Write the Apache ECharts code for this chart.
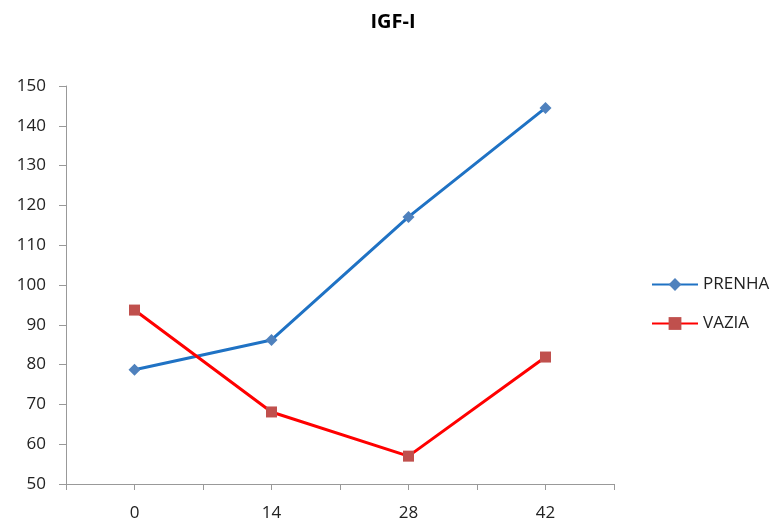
<!DOCTYPE html>
<html>
<head>
<meta charset="utf-8">
<script src="https://cdn.jsdelivr.net/npm/echarts@6/dist/echarts.min.js"></script>
<style>html,body{margin:0;padding:0;background:#fff}#c{width:773px;height:525px}</style>
</head>
<body>
<div id="c"></div>
<script>
var categories = ['0', '14', '28', '42'];
var prenha = [78.7, 86.2, 117.1, 144.5];
var vazia = [93.7, 68.1, 57.0, 81.9];
var yTicks = [50, 60, 70, 80, 90, 100, 110, 120, 130, 140, 150];

var font = 'Open Sans';
var chart = echarts.init(document.getElementById('c'));
chart.setOption({
  animation: false,
  title: {
    text: 'IGF-I', left: 388, top: 7, textAlign: 'center',
    textStyle: {fontFamily: font, fontWeight: 'bold', fontSize: 20, color: '#000'}
  },
  legend: {
    orient: 'vertical', left: 646, top: 271, itemGap: 22,
    itemWidth: 46, itemHeight: 16,
    textStyle: {fontFamily: font, fontSize: 17, color: '#222'},
    data: ['PRENHA', 'VAZIA']
  },
  grid: {left: 66, right: 159, top: 86, bottom: 41},
  xAxis: [{
    type: 'category', data: categories, boundaryGap: true,
    axisLine: {lineStyle: {color: '#999', width: 1}},
    axisTick: {show: true, alignWithLabel: false, length: 6, lineStyle: {color: '#999'}},
    axisLabel: {fontFamily: font, fontSize: 17, color: '#222', margin: 21}
  }, {
    type: 'category', data: categories, boundaryGap: true, position: 'bottom',
    axisLine: {show: false},
    axisTick: {show: true, alignWithLabel: true, length: 6, lineStyle: {color: '#999'}},
    axisLabel: {show: false}
  }],
  yAxis: {
    type: 'value', min: yTicks[0], max: yTicks[yTicks.length - 1], interval: 10,
    axisLine: {show: true, lineStyle: {color: '#999', width: 1}},
    axisTick: {show: true, length: 7, lineStyle: {color: '#999'}},
    splitLine: {show: false},
    axisLabel: {fontFamily: font, fontSize: 17, color: '#222', margin: 20}
  },
  series: [{
    name: 'PRENHA', type: 'line', data: prenha,
    symbol: 'diamond', symbolSize: 12,
    lineStyle: {color: '#1F72C4', width: 3},
    itemStyle: {color: '#4F81BD', borderWidth: 0}
  }, {
    name: 'VAZIA', type: 'line', data: vazia,
    symbol: 'rect', symbolSize: 11,
    lineStyle: {color: '#FF0000', width: 3},
    itemStyle: {color: '#C0504D', borderWidth: 0}
  }]
});
</script>
</body>
</html>
